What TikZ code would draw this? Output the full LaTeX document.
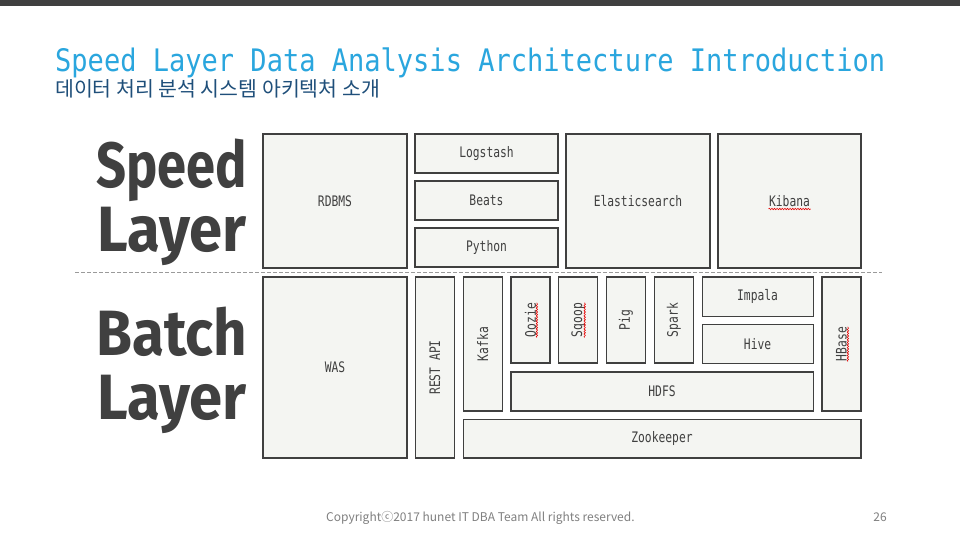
\documentclass[tikz,border=0pt]{standalone}
\usepackage{fontspec}
\usepackage{graphicx}
\usetikzlibrary{positioning,decorations.pathmorphing}

\setmainfont{DejaVu Sans}
\newfontfamily\boxfont[FakeStretch=0.78]{DejaVu Sans Mono}
\newfontfamily\titlefont[FakeStretch=0.872]{DejaVu Sans Mono}
\newfontfamily\layerfont[FakeStretch=0.82]{Fira Sans}
\newfontfamily\krfont{Noto Sans CJK KR}

\definecolor{titleblue}{HTML}{2AA6DE}
\definecolor{subblue}{HTML}{1F4F7A}
\definecolor{ink}{HTML}{404040}
\definecolor{boxfill}{HTML}{F4F5F2}
\definecolor{footgray}{HTML}{808080}
\definecolor{sepgray}{HTML}{9A9A9A}

\newcommand{\vtext}[1]{\rotatebox{90}{#1}}
\newcommand{\wider}[2]{\scalebox{#1}[1]{#2}}

\begin{document}
\begin{tikzpicture}[x=1pt,y=-1pt,
  box/.style={draw=ink,fill=boxfill,line width=1.2pt,inner sep=0pt,outer sep=0pt,
    text=ink,font=\boxfont\fontsize{14.5}{16}\selectfont,anchor=north west},
  thin/.style={minimum width=39pt},
  layer/.style={align=center,text=ink,font=\layerfont\bfseries\fontsize{64}{64}\selectfont},
  squiggle/.style={red!90!black,line width=0.6pt,decorate,
    decoration={snake,segment length=2.6pt,amplitude=0.7pt}}]

  \useasboundingbox (0,0) rectangle (960,541);
  \fill[white] (0,0) rectangle (960,541);
  \fill[ink] (0,0) rectangle (960,6);

  % title
  \node[anchor=base west,inner sep=0pt,text=titleblue,
    font=\titlefont\fontsize{31}{31}\selectfont] (title) at (55,71)
    {Speed Layer Data Analysis Architecture Introduction};
  \node[anchor=base west,inner sep=0pt,text=subblue,
    font=\krfont\fontsize{20.5}{20.5}\selectfont] (subtitle) at (55,96)
    {데이터 처리 분석 시스템 아키텍처 소개};

  % layer names
  \node[layer] (speedlbl) at (172,202) {Speed\\\wider{1.14}{Layer}};
  \node[layer] (batchlbl) at (172,370) {\wider{1.11}{Batch}\\\wider{1.14}{Layer}};
  \draw[sepgray,line width=0.8pt,dash pattern=on 4pt off 2pt] (75,272) -- (882,272);

  % speed layer
  \node[box,minimum width=144pt,minimum height=134pt] (rdbms) at (263,134) {RDBMS};
  \node[box,minimum width=143pt,minimum height=39pt,right=8pt of rdbms.north east,anchor=north west] (logstash) {Logstash};
  \node[box,minimum width=143pt,minimum height=39pt,below=8pt of logstash.south west,anchor=north west] (beats) {Beats};
  \node[box,minimum width=143pt,minimum height=39pt,below=8pt of beats.south west,anchor=north west] (python) {Python};
  \node[box,minimum width=144pt,minimum height=134pt,right=8pt of logstash.north east,anchor=north west] (elastic) {Elasticsearch};
  \node[box,minimum width=143pt,minimum height=134pt,right=8pt of elastic.north east,anchor=north west] (kibana) {Kibana};

  % batch layer
  \node[box,minimum width=144pt,minimum height=181pt,below=9pt of rdbms.south west,anchor=north west] (was) {WAS};
  \node[box,thin,minimum height=181pt,right=8.3pt of was.north east,anchor=north west] (rest) {\vtext{REST API}};
  \node[box,thin,minimum height=134pt,right=8.8pt of rest.north east,anchor=north west] (kafka) {\vtext{Kafka}};
  \node[box,thin,minimum height=86pt,right=8.8pt of kafka.north east,anchor=north west] (oozie) {\vtext{Oozie}};
  \node[box,thin,minimum height=86pt,right=8.8pt of oozie.north east,anchor=north west] (sqoop) {\vtext{Sqoop}};
  \node[box,thin,minimum height=86pt,right=8.8pt of sqoop.north east,anchor=north west] (pig) {\vtext{Pig}};
  \node[box,thin,minimum height=86pt,right=8.8pt of pig.north east,anchor=north west] (spark) {\vtext{Spark}};
  \node[box,minimum width=111pt,minimum height=39.5pt,right=8.8pt of spark.north east,anchor=north west] (impala) {Impala};
  \node[box,minimum width=111pt,minimum height=39pt,below=7.7pt of impala.south west,anchor=north west] (hive) {Hive};
  \node[box,thin,minimum height=134pt,right=8.8pt of impala.north east,anchor=north west] (hbase) {\vtext{HBase}};
  \node[box,minimum width=302.2pt,minimum height=39pt,below=9pt of oozie.south west,anchor=north west] (hdfs) {HDFS};
  \node[box,minimum width=397.8pt,minimum height=38.5pt,below=8.5pt of kafka.south west,anchor=north west] (zookeeper) {Zookeeper};

  % spell marks
  \draw[squiggle] ([shift={(-21,8)}]kibana.center) -- ++(42,0);
  \draw[squiggle] ([shift={(6.5,17.5)}]oozie.center) -- ++(0,-35);
  \draw[squiggle] ([shift={(6.5,17.5)}]sqoop.center) -- ++(0,-35);
  \draw[squiggle] ([shift={(6.5,17.5)}]hbase.center) -- ++(0,-35);

  % footer
  \node[anchor=base west,inner sep=0pt,text=footgray,
    font=\krfont\fontsize{12}{12}\selectfont] (copy) at (326,521)
    {Copyrightⓒ2017 hunet IT DBA Team All rights reserved.};
  \node[anchor=base east,inner sep=0pt,text=footgray,
    font=\krfont\fontsize{12}{12}\selectfont] (page) at (887,521) {26};
\end{tikzpicture}
\end{document}
